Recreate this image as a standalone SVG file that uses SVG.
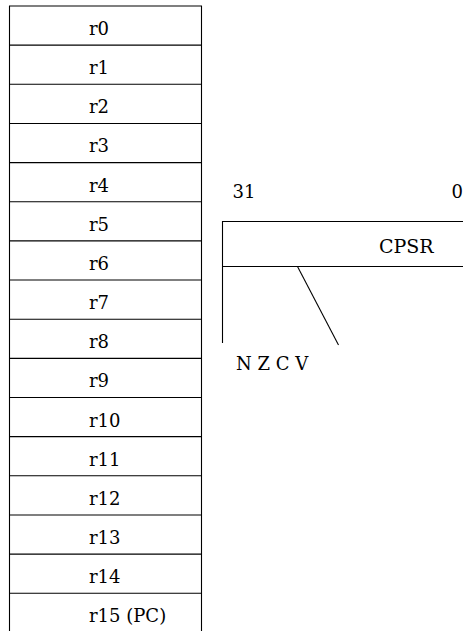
<svg xmlns="http://www.w3.org/2000/svg" width="463" height="631" viewBox="0 0 463 631">
<style>
.ln{stroke:#000;stroke-width:1.1;fill:none}
.t{font-family:"DejaVu Serif","Liberation Serif",serif;font-size:18px;fill:#000}
.big{font-size:19px}
</style>
<rect width="463" height="631" fill="#fff"/>
<g id="registers">
<line class="ln" x1="9.5" y1="6" x2="9.5" y2="631"/>
<line class="ln" x1="201.5" y1="6" x2="201.5" y2="631"/>
<g id="r0"><line class="ln" x1="9" y1="6" x2="202" y2="6"/><text class="t" x="89" y="35">r0</text></g>
<g id="r1"><line class="ln" x1="9" y1="45.15" x2="202" y2="45.15"/><text class="t" x="89" y="74.15">r1</text></g>
<g id="r2"><line class="ln" x1="9" y1="84.3" x2="202" y2="84.3"/><text class="t" x="89" y="113.3">r2</text></g>
<g id="r3"><line class="ln" x1="9" y1="123.45" x2="202" y2="123.45"/><text class="t" x="89" y="152.45">r3</text></g>
<g id="r4"><line class="ln" x1="9" y1="162.6" x2="202" y2="162.6"/><text class="t" x="89" y="191.6">r4</text></g>
<g id="r5"><line class="ln" x1="9" y1="201.75" x2="202" y2="201.75"/><text class="t" x="89" y="230.75">r5</text></g>
<g id="r6"><line class="ln" x1="9" y1="240.9" x2="202" y2="240.9"/><text class="t" x="89" y="269.9">r6</text></g>
<g id="r7"><line class="ln" x1="9" y1="280.05" x2="202" y2="280.05"/><text class="t" x="89" y="309.05">r7</text></g>
<g id="r8"><line class="ln" x1="9" y1="319.2" x2="202" y2="319.2"/><text class="t" x="89" y="348.2">r8</text></g>
<g id="r9"><line class="ln" x1="9" y1="358.35" x2="202" y2="358.35"/><text class="t" x="89" y="387.35">r9</text></g>
<g id="r10"><line class="ln" x1="9" y1="397.5" x2="202" y2="397.5"/><text class="t" x="89" y="426.5">r10</text></g>
<g id="r11"><line class="ln" x1="9" y1="436.65" x2="202" y2="436.65"/><text class="t" x="89" y="465.65">r11</text></g>
<g id="r12"><line class="ln" x1="9" y1="475.8" x2="202" y2="475.8"/><text class="t" x="89" y="504.8">r12</text></g>
<g id="r13"><line class="ln" x1="9" y1="514.95" x2="202" y2="514.95"/><text class="t" x="89" y="543.95">r13</text></g>
<g id="r14"><line class="ln" x1="9" y1="554.1" x2="202" y2="554.1"/><text class="t" x="89" y="583.1">r14</text></g>
<g id="r15"><line class="ln" x1="9" y1="593.25" x2="202" y2="593.25"/><text class="t" x="89" y="622.25">r15 (PC)</text></g>
</g>
<g id="cpsr">
<text class="t" x="232.5" y="198">31</text>
<text class="t" x="451.5" y="198">0</text>
<line class="ln" x1="222.5" y1="221.5" x2="463" y2="221.5"/>
<line class="ln" x1="222.5" y1="266.5" x2="463" y2="266.5"/>
<line class="ln" x1="222.5" y1="221" x2="222.5" y2="343"/>
<text class="t big" x="379" y="252.5">CPSR</text>
</g>
<g id="flags">
<text class="t" x="236" y="370">N Z C V</text>
</g>
<g id="connectors">
<line class="ln" x1="297.5" y1="266.5" x2="338.5" y2="345"/>
</g>
</svg>
